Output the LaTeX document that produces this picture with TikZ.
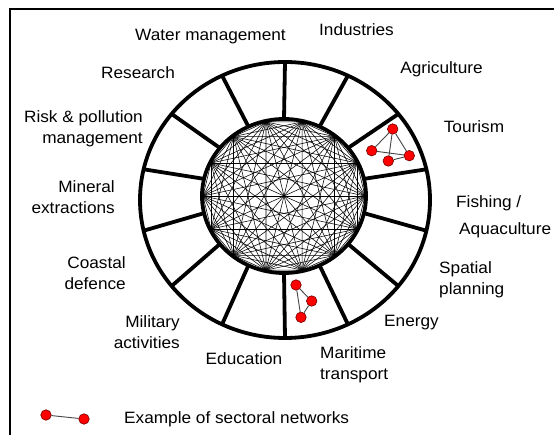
\documentclass[tikz,border=0pt]{standalone}
\usepackage{fontspec}
\setmainfont{Liberation Sans}[FakeStretch=1.05]
\begin{document}
\begin{tikzpicture}[x=1pt,y=-1pt,
  lbl/.style={font=\fontsize{16.4}{21}\selectfont, inner sep=0pt},
  chord/.style={line width=0.55pt, black},
  spoke/.style={line width=3.8pt, black},
  ring/.style={line width=3.8pt, black},
  rednode/.style={circle, fill=red, draw={rgb,255:red,110;green,0;blue,0}, line width=0.6pt, minimum size=10.5pt, inner sep=0pt},
  netedge/.style={line width=0.9pt, draw={rgb,255:red,70;green,70;blue,70}}]
\useasboundingbox (0,0) rectangle (554,435);
\fill[white] (0,0) rectangle (554,435);
% frame
\draw[line width=2pt, line join=miter] (10,435) -- (10,9.3) -- (554,9.3);
% complete graph inside the inner ring
\foreach \k in {0,...,13}{
  \pgfmathsetmacro\b{90+(\k+0.5)*360/14}
  \coordinate (v\k) at ({284+81*cos(\b)},{196-76*sin(\b)});
}
\foreach \i in {0,...,12}{
  \pgfmathtruncatemacro\s{\i+1}
  \foreach \j in {\s,...,13}{
    \draw[chord] (v\i) -- (v\j);
  }
}
% spokes
\foreach \k in {0,...,13}{
  \pgfmathsetmacro\a{90+\k*360/14}
  \coordinate (si\k) at ({284+82*cos(\a)},{196-77*sin(\a)});
  \coordinate (so\k) at ({285+145*cos(\a)},{200-138*sin(\a)});
  \draw[spoke] (si\k) -- (so\k);
}
% rings
\draw[ring] (285,200) ellipse [x radius=145pt, y radius=138pt];
\draw[ring] (284,196) ellipse [x radius=82pt, y radius=77pt];
% tourism network
\node[rednode] (t1) at (392.7,129) {};
\node[rednode] (t2) at (371.7,150.7) {};
\node[rednode] (t3) at (388.3,161) {};
\node[rednode] (t4) at (409.3,155.7) {};
\draw[netedge] (t1) -- (t2);
\draw[netedge] (t1) -- (t4);
\draw[netedge] (t1) -- (t3);
\draw[netedge] (t2) -- (t4);
\draw[netedge] (t3) -- (t4);
% maritime network
\node[rednode] (m1) at (296,285) {};
\node[rednode] (m2) at (311.7,301) {};
\node[rednode] (m3) at (301,317.3) {};
\draw[netedge] (m1) -- (m2);
\draw[netedge] (m2) -- (m3);
\draw[netedge] (m1) -- (m3);
% legend
\node[rednode] (l1) at (46,415) {};
\node[rednode] (l2) at (84,419) {};
\draw[netedge] (l1) -- (l2);
\node[lbl, anchor=base west] (leg) at (124,423) {Example of sectoral networks};
% labels
\node[lbl, anchor=base] (water) at (210.5,41) {Water management};
\node[lbl, anchor=base] (ind) at (356.5,36) {Industries};
\node[lbl, anchor=base] (agri) at (441.5,74) {Agriculture};
\node[lbl, anchor=base] (tour) at (474,133) {Tourism};
\node[lbl, anchor=base west] (fish) at (456,208) {Fishing /};
\node[lbl, anchor=base west] (aqua) at (459,235) {Aquaculture};
\node[lbl, anchor=north west, align=left] (spat) at (439,261.3) {Spatial\\planning};
\node[lbl, anchor=base] (energy) at (411.5,327) {Energy};
\node[lbl, anchor=north west, align=left] (mari) at (320,346.3) {Maritime\\transport};
\node[lbl, anchor=base] (edu) at (244,364) {Education};
\node[lbl, anchor=north east, align=right] (mil) at (180,315.3) {Military\\activities};
\node[lbl, anchor=north east, align=right] (coast) at (126,256.3) {Coastal\\defence};
\node[lbl, anchor=north east, align=right] (mine) at (115,180.3) {Mineral\\extractions};
\node[lbl, anchor=north east, align=right] (risk) at (143,110.3) {Risk \& pollution\\management};
\node[lbl, anchor=base] (res) at (138,79) {Research};
\end{tikzpicture}
\end{document}
